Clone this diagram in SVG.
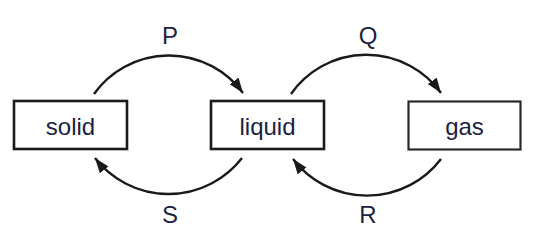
<svg xmlns="http://www.w3.org/2000/svg" width="540" height="237" viewBox="0 0 540 237">
<style>
.box{fill:#fff;stroke:#1a1a1a;stroke-width:2.6}
.lbl{font-family:"Liberation Sans",Arial,sans-serif;font-size:24px;fill:#1c2340;text-anchor:middle}
.arc{fill:none;stroke:#1a1a1a;stroke-width:2.4}
</style>
<defs>
<marker id="ah" markerUnits="userSpaceOnUse" markerWidth="16" markerHeight="12" refX="15" refY="5.5" orient="auto">
<path d="M0,0 L15,5.5 L0,11 z" fill="#1a1a1a"/>
</marker>
</defs>
<rect width="540" height="237" fill="#fff"/>
<g id="connectors">
<path class="arc" d="M94,94 A92,92 0 0 1 243,93" marker-end="url(#ah)"/>
<path class="arc" d="M242,158 A93,93 0 0 1 95,158" marker-end="url(#ah)"/>
<path class="arc" d="M291,94 A92,92 0 0 1 441,93" marker-end="url(#ah)"/>
<path class="arc" d="M441,159 A93,93 0 0 1 293,159" marker-end="url(#ah)"/>
<text class="lbl" x="170" y="44">P</text>
<text class="lbl" x="170" y="223">S</text>
<text class="lbl" x="368" y="44">Q</text>
<text class="lbl" x="368" y="223">R</text>
</g>
<g id="solid">
<rect class="box" x="14" y="101" width="113" height="48"/>
<text class="lbl" x="70.5" y="135">solid</text>
</g>
<g id="liquid">
<rect class="box" x="211" y="101" width="113" height="48"/>
<text class="lbl" x="267.5" y="135">liquid</text>
</g>
<g id="gas">
<rect class="box" x="408.5" y="101.5" width="112" height="48" style="stroke:#2a2a2a;stroke-width:2.2"/>
<text class="lbl" x="464.5" y="135">gas</text>
</g>
</svg>
